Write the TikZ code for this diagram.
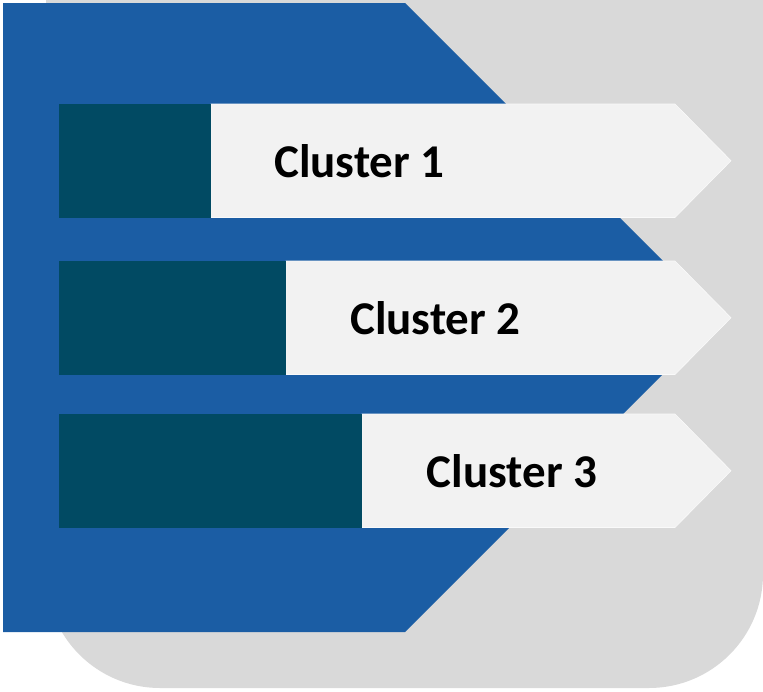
\documentclass[tikz,border=0pt]{standalone}
\usepackage{fontspec}
\setmainfont{Carlito}
\definecolor{backgray}{HTML}{D9D9D9}
\definecolor{chevblue}{HTML}{1B5DA4}
\definecolor{barteal}{HTML}{014A63}
\definecolor{tabgray}{HTML}{F2F2F2}
\tikzset{
  panel/.style={fill=backgray, draw=none},
  chevron/.style={fill=chevblue, draw=none},
  tab/.style={fill=tabgray, draw=white!60!tabgray, line width=0.6pt},
  bar/.style={fill=barteal, draw=none},
  label/.style={font=\bfseries\fontsize{47}{50}\selectfont, text=black, anchor=base, inner sep=0pt}
}
\begin{document}
\begin{tikzpicture}[x=1pt, y=-1pt]
  \useasboundingbox (0,0) rectangle (763,691);
  % grey backing panel with rounded lower corners
  \fill[panel] (46,0) -- (763,0) -- (763,574)
    arc[start angle=0, end angle=90, radius=114] -- (160,688)
    arc[start angle=90, end angle=180, radius=114] -- cycle;
  % blue chevron
  \fill[chevron] (3,3) -- (405,3) -- (719.5,317.5) -- (405,632) -- (3,632) -- cycle;
  % rows: light arrow tab, teal progress bar, caption
  \foreach \top/\barend/\cx/\name/\txt in {104/211/359.5/one/Cluster 1, 261/286/435.5/two/Cluster 2, 414/362/512/three/Cluster 3}{
    \pgfmathsetmacro{\bot}{\top+113.5}
    \pgfmathsetmacro{\mid}{\top+56.75}
    \filldraw[tab] (\barend,\top) -- (675,\top) -- (731,\mid) -- (675,\bot) -- (\barend,\bot) -- cycle;
    \fill[bar] (59,\top) rectangle (\barend,\bot);
    \node[label] (\name) at (\cx,\top+73) {\txt};
  }
\end{tikzpicture}
\end{document}
